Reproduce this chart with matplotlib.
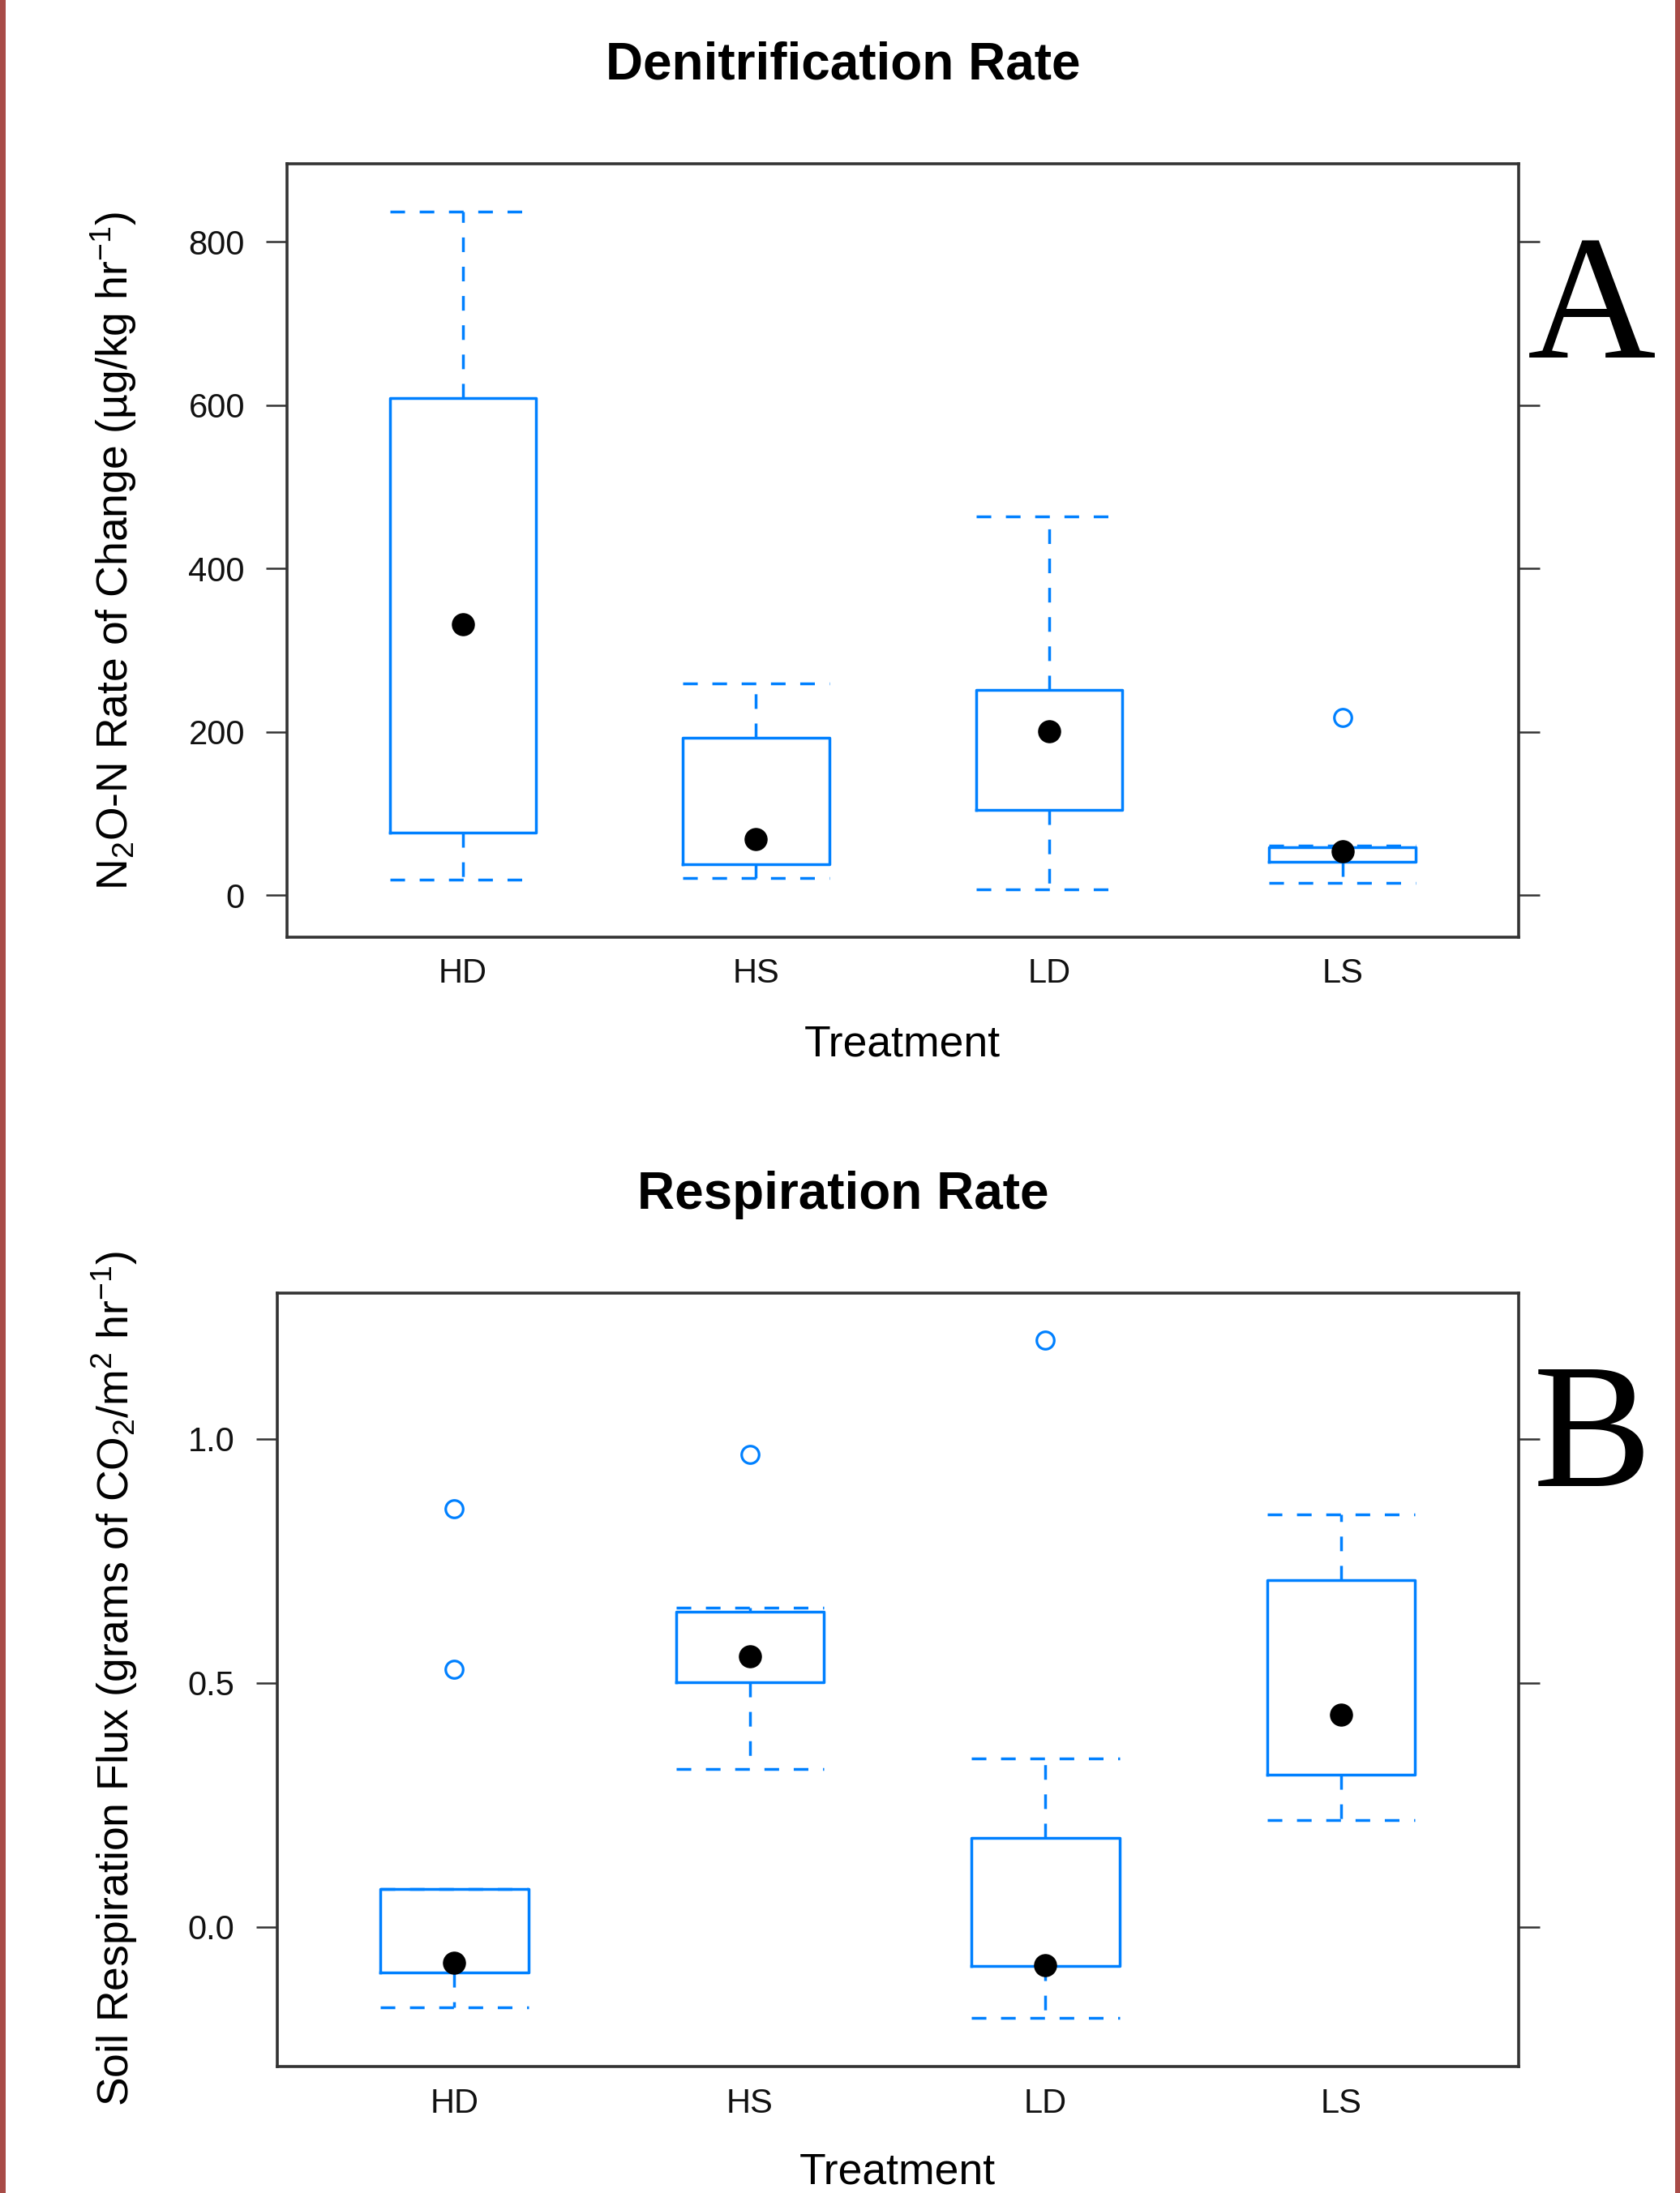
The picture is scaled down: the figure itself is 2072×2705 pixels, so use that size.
import matplotlib
matplotlib.use('Agg')
import matplotlib.pyplot as plt
from matplotlib.patches import Rectangle

plt.rcParams['font.family'] = ['Liberation Sans', 'DejaVu Sans']
plt.rcParams['mathtext.default'] = 'regular'
plt.rcParams['lines.scale_dashes'] = False

# ---------------- data ----------------
treatments = ['HD', 'HS', 'LD', 'LS']

# Panel A: denitrification rate (N2O-N, ug/kg/hr)
den_whislo = [19, 21, 7, 15]
den_q1 = [77, 38, 105, 41]
den_med = [332, 69, 201, 54]
den_q3 = [609, 193, 251, 59]
den_whishi = [837, 259, 464, 61]
den_fliers = [[], [], [], [218]]
den_yticks = [0, 200, 400, 600, 800]
den_ylim = (-51, 895)

# Panel B: soil respiration flux (g CO2/m2/hr)
resp_whislo = [-0.165, 0.324, -0.187, 0.218]
resp_q1 = [-0.093, 0.501, -0.080, 0.312]
resp_med = [-0.074, 0.554, -0.078, 0.435]
resp_q3 = [0.077, 0.645, 0.182, 0.711]
resp_whishi = [0.077, 0.654, 0.345, 0.845]
resp_fliers = [[0.857, 0.528], [0.967], [1.202], []]
resp_yticks = [0.0, 0.5, 1.0]
resp_yticklabels = ['0.0', '0.5', '1.0']
resp_ylim = (-0.286, 1.299)

# ---------------- style ----------------
W, H = 2072, 2705
BLUE = '#0080ff'
SPINE = '#333333'
LW = 2.5
fig = plt.figure(figsize=(W / 100, H / 100), dpi=100)
fig.patch.set_facecolor('white')


def fx(px):
    return px / W


def fy(py):
    return 1 - py / H


def draw(ax, whislo, q1, med, q3, whishi, fliers, ylim, yticks, yticklabels):
    stats = []
    for i, t in enumerate(treatments):
        stats.append(dict(label=t, whislo=whislo[i], q1=q1[i], med=med[i],
                          q3=q3[i], whishi=whishi[i], fliers=fliers[i]))
    pos = list(range(1, len(treatments) + 1))
    dash = (0, (13, 13))
    ax.bxp(stats, positions=pos, widths=0.5, capwidths=0.5, showfliers=True,
           boxprops=dict(color=BLUE, linewidth=LW),
           whiskerprops=dict(color=BLUE, linewidth=LW, linestyle=dash),
           capprops=dict(color=BLUE, linewidth=LW, linestyle=dash),
           medianprops=dict(linestyle='none'),
           flierprops=dict(marker='o', markersize=15.5, markerfacecolor='none',
                           markeredgecolor=BLUE, markeredgewidth=2.3,
                           linestyle='none'))
    ax.plot(pos, med, 'o', color='black', markersize=19.5, zorder=5)
    ax.set_xlim(0.4, len(treatments) + 0.6)
    ax.set_ylim(*ylim)
    ax.set_xticks(pos)
    ax.set_xticklabels(treatments)
    ax.set_yticks(yticks)
    ax.set_yticklabels(yticklabels)
    for s in ax.spines.values():
        s.set_linewidth(2.6)
        s.set_color(SPINE)
    ax.tick_params(axis='y', direction='out', length=19, width=1.8, pad=18.5,
                   labelsize=30, right=True, labelright=False, color=SPINE,
                   labelcolor='#111111')
    ax.tick_params(axis='x', length=0, pad=18.5, labelsize=30,
                   labelcolor='#111111')


# Panel A axes
axA = fig.add_axes([fx(354), fy(1155.8), fx(1872.5 - 354), (1155.8 - 202.3) / H])
draw(axA, den_whislo, den_q1, den_med, den_q3, den_whishi, den_fliers,
     den_ylim, den_yticks, [str(v) for v in den_yticks])

# Panel B axes
axB = fig.add_axes([fx(341.7), fy(2549), fx(1872.7 - 341.7), (2549 - 1594.5) / H])
draw(axB, resp_whislo, resp_q1, resp_med, resp_q3, resp_whishi, resp_fliers,
     resp_ylim, resp_yticks, resp_yticklabels)

# Titles
fig.text(fx(1040), fy(98), 'Denitrification Rate', ha='center', va='baseline',
         fontsize=46, fontweight='bold')
fig.text(fx(1040), fy(1491), 'Respiration Rate', ha='center', va='baseline',
         fontsize=46, fontweight='bold')

# x labels
fig.text(fx(1113), fy(1302), 'Treatment', ha='center', va='baseline', fontsize=38.5)
fig.text(fx(1107), fy(2694), 'Treatment', ha='center', va='baseline', fontsize=38.5)

# y labels
fig.text(fx(141), fy(679), r'N$_2$O-N Rate of Change (µg/kg hr$^{-1}$)',
         rotation=90, ha='center', va='center', fontsize=38.5)
fig.text(fx(141), fy(2071), r'Soil Respiration Flux (grams of CO$_2$/m$^2$ hr$^{-1}$)',
         rotation=90, ha='center', va='center', fontsize=38.5)

# Panel letters
fig.text(fx(1963), fy(441), 'A', ha='center', va='baseline', fontsize=158,
         family=['Liberation Serif', 'DejaVu Serif'])
fig.text(fx(1964), fy(1833), 'B', ha='center', va='baseline', fontsize=158,
         family=['Liberation Serif', 'DejaVu Serif'])

# Side borders
BORDER = '#a84b47'
fig.add_artist(Rectangle((0, 0), fx(7), 1, transform=fig.transFigure,
                         facecolor=BORDER, edgecolor='none'))
fig.add_artist(Rectangle((fx(2066), 0), fx(6), 1, transform=fig.transFigure,
                         facecolor=BORDER, edgecolor='none'))

fig.savefig('out.png', dpi=100, facecolor='white')
